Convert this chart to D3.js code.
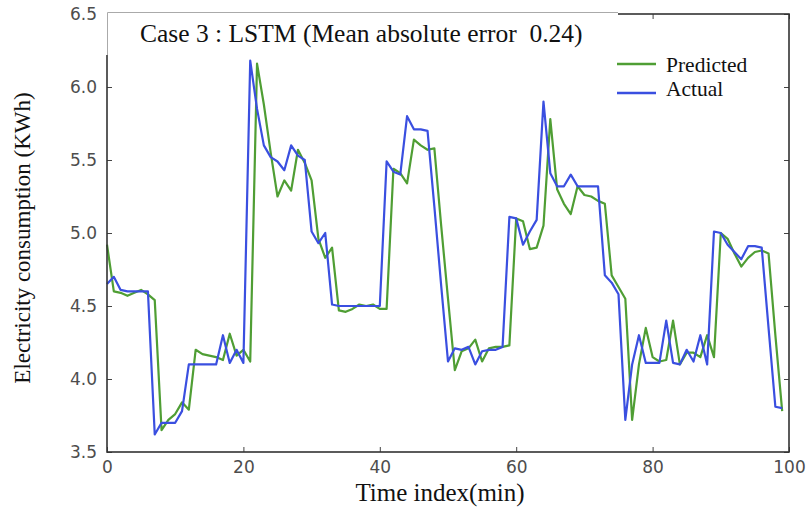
<!DOCTYPE html>
<html>
<head>
<meta charset="utf-8">
<script src="https://cdn.jsdelivr.net/npm/d3@7"></script>
<style>
  body { margin: 0; background: #fff; }
  svg { display: block; }
</style>
</head>
<body>
<div id="chart"></div>
<script>
// Case 3 : LSTM, predicted vs actual electricity consumption
const timeIndex = d3.range(0, 100);

const actual = [
  4.65, 4.70, 4.61, 4.60, 4.60, 4.60, 4.60, 3.62, 3.70, 3.70,
  3.70, 3.78, 4.10, 4.10, 4.10, 4.10, 4.10, 4.30, 4.11, 4.20,
  4.11, 6.18, 5.85, 5.60, 5.52, 5.49, 5.43, 5.60, 5.53, 5.50,
  5.01, 4.93, 5.00, 4.51, 4.50, 4.50, 4.50, 4.50, 4.50, 4.50,
  4.50, 5.49, 5.42, 5.40, 5.80, 5.71, 5.71, 5.70, 5.18, 4.64,
  4.12, 4.21, 4.20, 4.22, 4.10, 4.19, 4.20, 4.20, 4.22, 5.11,
  5.10, 4.92, 5.01, 5.09, 5.90, 5.41, 5.32, 5.32, 5.40, 5.32,
  5.32, 5.32, 5.32, 4.71, 4.66, 4.58, 3.72, 4.10, 4.30, 4.11,
  4.11, 4.11, 4.40, 4.11, 4.10, 4.20, 4.12, 4.30, 4.10, 5.01,
  5.00, 4.92, 4.87, 4.82, 4.91, 4.91, 4.90, 4.35, 3.81, 3.80
];

const predicted = [
  4.92, 4.60, 4.59, 4.57, 4.59, 4.61, 4.58, 4.54, 3.65, 3.72,
  3.76, 3.84, 3.79, 4.20, 4.17, 4.16, 4.15, 4.13, 4.31, 4.16,
  4.20, 4.12, 6.16, 5.88, 5.55, 5.25, 5.36, 5.29, 5.57, 5.48,
  5.36, 4.96, 4.83, 4.90, 4.47, 4.46, 4.48, 4.51, 4.50, 4.51,
  4.48, 4.48, 5.44, 5.41, 5.34, 5.64, 5.60, 5.57, 5.58, 5.05,
  4.55, 4.06, 4.19, 4.21, 4.27, 4.12, 4.21, 4.22, 4.22, 4.23,
  5.10, 5.08, 4.89, 4.90, 5.05, 5.78, 5.30, 5.20, 5.13, 5.32,
  5.26, 5.25, 5.22, 5.20, 4.71, 4.63, 4.55, 3.72, 4.10, 4.35,
  4.15, 4.12, 4.13, 4.40, 4.10, 4.18, 4.18, 4.15, 4.30, 4.15,
  5.00, 4.96, 4.86, 4.77, 4.83, 4.87, 4.88, 4.86, 4.30, 3.78
];

const xTicks = [0, 20, 40, 60, 80, 100];
const yTicks = [3.5, 4.0, 4.5, 5.0, 5.5, 6.0, 6.5];

const seriesNames = ['Predicted', 'Actual'];
const seriesColors = { 'Predicted': '#4f9e34', 'Actual': '#3a4fe0' };

const width = 810, height = 512;
const plot = { left: 107, right: 789, top: 14, bottom: 452 };

const svg = d3.select('#chart').append('svg')
  .attr('width', width)
  .attr('height', height);

const x = d3.scaleLinear().domain([0, 100]).range([plot.left, plot.right]);
const y = d3.scaleLinear().domain([3.5, 6.5]).range([plot.bottom, plot.top]);

const tickFont = 'DejaVu Sans, sans-serif';
const serif = 'Liberation Serif, Times New Roman, serif';

// lines first, frame on top
const line = d3.line()
  .x((d, i) => x(timeIndex[i]))
  .y(d => y(d));

const seriesData = { 'Predicted': predicted, 'Actual': actual };
seriesNames.forEach(name => {
  svg.append('path')
    .datum(seriesData[name])
    .attr('fill', 'none')
    .attr('stroke', seriesColors[name])
    .attr('stroke-width', 2.2)
    .attr('stroke-linejoin', 'round')
    .attr('d', line);
});

// axes with inward ticks (classic matplotlib look)
const styleAxis = g => {
  g.select('.domain').remove();
  g.selectAll('.tick line').attr('stroke', '#444').attr('stroke-width', 1);
  g.selectAll('.tick text')
    .attr('fill', '#4d4d4d')
    .style('font-family', tickFont)
    .style('font-size', '17px');
};

svg.append('g')
  .attr('transform', `translate(0,${plot.bottom})`)
  .call(d3.axisBottom(x).tickValues(xTicks).tickFormat(d3.format('d')).tickSize(-5).tickPadding(9))
  .call(styleAxis);

svg.append('g')
  .attr('transform', `translate(0,${plot.top})`)
  .call(d3.axisTop(x).tickValues(xTicks).tickFormat('').tickSize(-5))
  .call(styleAxis);

svg.append('g')
  .attr('transform', `translate(${plot.left},0)`)
  .call(d3.axisLeft(y).tickValues(yTicks).tickFormat(d3.format('.1f')).tickSize(-5).tickPadding(10))
  .call(styleAxis);

svg.append('g')
  .attr('transform', `translate(${plot.right},0)`)
  .call(d3.axisRight(y).tickValues(yTicks).tickFormat('').tickSize(-5))
  .call(styleAxis);

// frame
svg.append('rect')
  .attr('x', plot.left)
  .attr('y', plot.top)
  .attr('width', plot.right - plot.left)
  .attr('height', plot.bottom - plot.top)
  .attr('fill', 'none')
  .attr('stroke', '#333')
  .attr('stroke-width', 1.6);

// title sits in a white box pasted over the top-left of the frame
const boxRight = 618, boxBottom = 55;
svg.append('rect')
  .attr('x', plot.left - 1)
  .attr('y', plot.top - 3)
  .attr('width', boxRight - plot.left + 1)
  .attr('height', boxBottom - plot.top + 3)
  .attr('fill', '#fff');
svg.append('path')
  .attr('d', `M${plot.left + 0.5},${boxBottom} V${plot.top - 1.5} H${boxRight}`)
  .attr('fill', 'none')
  .attr('stroke', '#aaa')
  .attr('stroke-width', 1);

svg.append('text')
  .attr('x', 140)
  .attr('y', 42)
  .attr('fill', '#111')
  .style('font-family', serif)
  .style('font-size', '25.5px')
  .style('white-space', 'pre')
  .text('Case 3 : LSTM (Mean absolute error  0.24)');

// legend
const legend = svg.append('g');
const legendRows = [
  { name: 'Predicted', lineY: 64, textY: 72 },
  { name: 'Actual', lineY: 93, textY: 96 }
];
legendRows.forEach(r => {
  legend.append('line')
    .attr('x1', 617).attr('x2', 656)
    .attr('y1', r.lineY).attr('y2', r.lineY)
    .attr('stroke', seriesColors[r.name])
    .attr('stroke-width', 2.5);
  legend.append('text')
    .attr('x', 666)
    .attr('y', r.textY)
    .attr('fill', '#111')
    .style('font-family', serif)
    .style('font-size', '21.5px')
    .text(r.name);
});

// axis titles
svg.append('text')
  .attr('x', 440)
  .attr('y', 501)
  .attr('text-anchor', 'middle')
  .attr('fill', '#111')
  .style('font-family', serif)
  .style('font-size', '25px')
  .text('Time index(min)');

svg.append('text')
  .attr('transform', 'translate(30,238) rotate(-90)')
  .attr('text-anchor', 'middle')
  .attr('fill', '#111')
  .style('font-family', serif)
  .style('font-size', '23px')
  .text('Electricity consumption (KWh)');
</script>
</body>
</html>
